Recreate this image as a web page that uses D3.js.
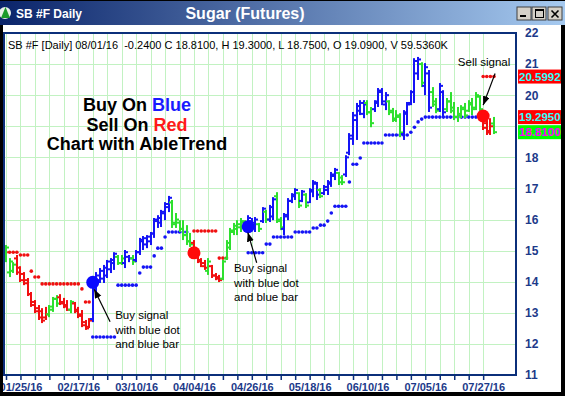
<!DOCTYPE html>
<html><head><meta charset="utf-8">
<script src="https://cdn.jsdelivr.net/npm/d3@7"></script>
<style>body{margin:0;background:#fff}svg{display:block}text{font-family:Arial,"Liberation Sans",sans-serif}</style>
</head><body><svg id="c" width="565" height="396"></svg>
<script>
// ---------------- DATA ----------------
const highs=[15.18,14.76,14.63,14.86,14.50,14.31,14.12,13.67,13.41,13.25,13.15,13.19,13.25,13.51,13.57,13.60,13.48,13.41,13.41,13.35,13.19,13.09,12.77,12.83,
14.05,14.31,14.44,14.54,14.70,14.76,14.95,14.86,14.86,15.02,14.86,14.86,15.02,15.41,15.47,15.50,15.60,16.05,16.14,16.31,16.56,16.76,16.63,16.21,15.98,15.98,15.82,15.57,
15.34,14.86,14.76,14.70,14.76,14.54,14.28,14.22,14.70,15.34,15.73,15.89,15.98,16.05,15.98,16.14,16.05,16.08,15.89,16.40,16.31,16.47,16.72,16.88,16.08,16.21,16.69,16.85,
17.01,16.88,16.95,16.85,17.01,17.27,17.21,17.01,17.11,17.27,17.53,17.66,17.53,17.43,18.07,18.78,19.46,19.75,19.84,19.84,19.84,19.62,19.84,20.23,20.23,20.10,19.84,19.59,
19.52,19.42,19.52,19.78,20.16,21.19,21.23,21.06,21.03,20.81,20.26,19.91,20.39,20.16,19.91,20.10,19.78,19.62,19.68,19.75,19.84,19.91,20.10,20.00,19.46,19.20,19.26,19.30];
const lows=[14.63,14.15,14.28,14.22,13.99,13.89,13.54,13.19,12.99,12.77,12.67,12.77,12.86,13.03,13.19,13.25,13.15,13.06,12.99,12.99,12.83,12.54,12.45,12.51,
12.70,13.67,13.96,13.96,14.12,14.28,14.38,14.54,14.54,14.44,14.63,14.54,14.63,14.86,15.02,15.08,15.18,15.41,15.73,15.76,15.98,16.24,15.73,15.73,15.60,15.34,15.18,15.12,
14.86,14.60,14.47,14.38,14.22,14.12,14.05,13.99,14.05,14.70,15.02,15.50,15.50,15.60,15.66,15.60,15.66,15.60,15.60,15.89,15.89,15.92,15.98,15.89,15.66,15.50,15.98,16.53,
16.63,16.37,16.56,16.37,16.53,16.72,16.63,16.69,16.79,16.79,17.05,17.27,17.11,17.11,17.37,18.07,18.40,18.56,19.36,19.26,19.36,18.97,19.46,19.62,19.68,19.52,19.36,19.14,
19.14,18.65,18.56,19.04,19.68,19.75,20.49,20.26,20.00,19.46,19.62,19.42,19.46,19.30,19.46,19.42,19.20,19.14,19.26,19.26,19.46,19.36,19.52,19.46,18.88,18.72,18.72,18.75];
const opens=[14.70,14.30,14.35,14.75,14.45,14.25,14.05,13.60,13.35,13.15,13.05,12.85,12.95,13.10,13.45,13.50,13.35,13.25,13.10,13.30,13.10,12.95,12.70,12.55,
12.80,13.80,14.05,14.10,14.20,14.40,14.60,14.80,14.60,14.60,14.80,14.75,14.70,14.95,15.30,15.20,15.30,15.55,15.95,15.90,16.20,16.40,16.55,15.90,15.90,15.70,15.50,15.30,
15.25,14.80,14.70,14.60,14.35,14.50,14.20,14.15,14.10,14.75,15.10,15.60,15.70,15.75,15.90,15.75,15.95,15.80,15.85,15.95,16.25,16.00,16.10,16.75,15.95,15.70,16.10,16.60,
16.75,16.85,16.60,16.80,16.55,16.90,17.15,16.95,16.85,16.95,17.15,17.40,17.50,17.35,17.45,18.15,18.60,19.20,19.50,19.40,19.75,19.45,19.55,19.75,20.10,19.70,19.80,19.50,
19.25,19.35,18.75,19.40,19.75,20.10,20.70,21.00,20.30,20.70,20.10,19.80,19.55,20.10,19.55,19.80,19.60,19.30,19.35,19.55,19.50,19.70,19.60,19.95,19.40,19.10,18.85,19.09];
const closes=[15.10,14.65,14.55,14.30,14.05,13.95,13.60,13.25,13.05,12.85,12.75,12.95,13.20,13.45,13.30,13.30,13.20,13.10,13.35,13.05,12.90,12.60,12.50,12.75,
14.00,14.20,14.35,14.45,14.65,14.70,14.90,14.60,14.75,14.95,14.75,14.65,14.95,15.35,15.40,15.45,15.55,16.00,16.05,16.25,16.50,16.70,15.85,16.00,15.70,15.50,15.30,15.20,
14.90,14.65,14.50,14.45,14.65,14.20,14.10,14.05,14.65,15.25,15.65,15.80,15.85,15.95,15.75,16.05,15.90,16.00,15.70,16.35,16.00,16.40,16.65,16.00,15.75,16.15,16.60,16.80,
16.95,16.45,16.90,16.45,16.95,17.20,16.80,16.75,17.05,17.20,17.45,17.60,17.20,17.20,18.00,18.70,19.35,19.65,19.75,19.70,19.45,19.10,19.80,20.15,19.80,20.00,19.45,19.20,
19.30,18.80,19.45,19.70,20.10,21.10,21.15,20.40,20.90,19.60,19.70,19.50,20.30,19.45,19.80,19.50,19.30,19.40,19.60,19.35,19.75,19.55,20.00,19.55,18.95,18.80,19.00,18.81];
const barColors=("ggg"+"rrrrrrrrr"+"ggg"+"rrr"+"g"+"rrrrr"+"bbbbbbb"+"gg"+"bb"+"g"+"bbbbbbbbbb"+"gggggg"+"rrrr"+"g"+"rrr"+"ggggggg"+
"bbb"+"g"+"b"+"g"+"bb"+"gg"+"bbbb"+"g"+"b"+"g"+"bbb"+"g"+"bbbb"+"gg"+"bbbbbb"+"gg"+"bbbb"+"gggg"+"bbbbb"+"g"+"bb"+"gg"+"bb"+"gggggggggg"+"rrr"+"g").split("");
// trailing stop runs: [first bar, last bar, stop price, colour code]
const stopRuns=[[0,3,14.95,"r"],[4,6,14.86,"r"],[7,7,14.34,"r"],[8,9,14.15,"r"],[10,20,13.93,"r"],[21,21,13.77,"r"],[22,23,13.35,"r"],
[24,30,12.22,"b"],[31,36,13.89,"b"],[37,37,14.28,"b"],[38,40,14.47,"b"],[41,41,14.83,"b"],[42,43,15.08,"b"],[44,44,15.44,"b"],[45,50,15.60,"b"],
[52,58,15.63,"r"],[59,61,14.76,"r"],
[67,71,14.93,"b"],[72,73,15.21,"b"],[74,79,15.44,"b"],[80,84,15.60,"b"],[85,86,15.73,"b"],[87,88,15.82,"b"],[89,89,15.95,"b"],[90,90,16.21,"b"],
[91,94,16.43,"b"],[95,95,17.21,"b"],[96,97,17.78,"b"],[98,98,17.98,"b"],[99,104,18.46,"b"],[105,111,18.72,"b"],[112,112,18.81,"b"],[113,113,18.97,"b"],
[114,114,19.14,"b"],[115,115,19.23,"b"],[116,131,19.295,"b"],[132,135,20.5992,"r"]];
// signal dots: [bar, price, colour]
const signals=[[24,13.98,"b"],[52,14.93,"r"],[67,15.77,"b"],[132,19.33,"r"]];
const dateLabels=["01/25/16","02/17/16","03/10/16","04/04/16","04/26/16","05/18/16","06/10/16","07/05/16","07/27/16"];
const dateIdx=[4,20,36,52,68,84,100,116,132];
const priceTicks=[11,12,13,14,15,16,17,18,19,20,21,22];
const lastLabels=[{v:20.5992,t:"20.5992",bg:"#ff0000",fg:"#33ffff"},{v:19.2950,t:"19.2950",bg:"#ff0000",fg:"#33ffff"},{v:18.8100,t:"18.8100",bg:"#00ff00",fg:"#ff00ff"}];
const headerText="SB #F [Daily] 08/01/16  -0.2400 C 18.8100, H 19.3000, L 18.7500, O 19.0900, V 59.5360K";
// annotations: text lines anchored at [bar, price]; arrows from [bar,price] to [bar,price]
const notes=[{at:[30.2,12.80],lines:["Buy signal","with blue dot","and blue bar"]},{at:[63.1,14.31],lines:["Buy signal","with blue dot","and blue bar"]},{at:[125.0,20.94],lines:["Sell signal"]}];
const arrows=[[[28.8,12.71],[24.4,13.76]],[[69.35,14.61],[66.9,15.58]],[[135.3,20.70],[132.0,19.68]]];

// ---------------- DRAW ----------------
const W=565,H=396;
const P={l:4,r:516,t:33,b:375};
const col={b:"#1414f5",r:"#f01010",g:"#2ee02e"};
const sigCol={b:"#0a0aff",r:"#ff0a0a"};
const svg=d3.select("#c");
const x=d3.scaleLinear().domain([0,135]).range([6,494]);
const y=d3.scaleLinear().domain([11,22]).range([P.b,P.t]);
const defs=svg.append("defs");
const tg=defs.append("linearGradient").attr("id","tg");
tg.append("stop").attr("offset","0").attr("stop-color","#0a246a");
tg.append("stop").attr("offset","1").attr("stop-color","#a6caf0");
defs.append("clipPath").attr("id","pc").append("rect").attr("x",P.l+1).attr("y",P.t+1).attr("width",P.r-P.l-2).attr("height",P.b-P.t-1);
defs.append("marker").attr("id","ah").attr("markerUnits","userSpaceOnUse").attr("markerWidth",10).attr("markerHeight",8)
 .attr("refX",9).attr("refY",3.5).attr("orient","auto").append("path").attr("d","M0,0L9,3.5L0,7Z").attr("fill","#000");

// window chrome
svg.append("rect").attr("width",W).attr("height",H).attr("fill","#000");
svg.append("rect").attr("x",0).attr("y",1).attr("width",W).attr("height",24).attr("fill","url(#tg)");
svg.append("rect").attr("x",3).attr("y",25).attr("width",558).attr("height",367).attr("fill","#fff");
// icon
svg.append("circle").attr("cx",5).attr("cy",13).attr("r",6).attr("fill","#e8f0e8");
svg.append("path").attr("d","M1,18L5.5,7L10,18Z").attr("fill","#1a9a2a");
svg.append("text").attr("x",16).attr("y",18).attr("fill","#fff").attr("font-weight","bold").attr("font-size","12px").text("SB #F Daily");
svg.append("text").attr("x",245).attr("y",19).attr("text-anchor","middle").attr("fill","#fff").attr("font-weight","bold").attr("font-size","16px").text("Sugar (Futures)");
// buttons
[[517,"min"],[532,"max"],[548,"x"]].forEach(([bx,k])=>{
  svg.append("rect").attr("x",bx).attr("y",7).attr("width",14).attr("height",13).attr("fill","#d4d0c8").attr("stroke","#404040").attr("stroke-width",1);
  if(k==="min") svg.append("rect").attr("x",bx+3).attr("y",15).attr("width",6).attr("height",2).attr("fill","#000");
  if(k==="max"){ svg.append("rect").attr("x",bx+3.5).attr("y",9.5).attr("width",8).attr("height",8).attr("fill","none").attr("stroke","#000").attr("stroke-width",1);
    svg.append("rect").attr("x",bx+3).attr("y",9).attr("width",9).attr("height",2).attr("fill","#000");}
  if(k==="x") svg.append("path").attr("d",`M${bx+3.5},10.5L${bx+10.5},17.5M${bx+10.5},10.5L${bx+3.5},17.5`).attr("stroke","#000").attr("stroke-width",1.6);
});

// grid
const g=svg.append("g");
const tickIdx=d3.range(0,133,4);
g.selectAll(".vg").data(tickIdx).join("line").attr("x1",d=>Math.round(x(d))+0.5).attr("x2",d=>Math.round(x(d))+0.5)
 .attr("y1",P.t).attr("y2",P.b).attr("stroke","#c2f2c2").attr("stroke-width",1);
g.selectAll(".hg").data(priceTicks.filter(v=>v>11&&v<22)).join("line").attr("y1",d=>Math.round(y(d))+0.5).attr("y2",d=>Math.round(y(d))+0.5)
 .attr("x1",P.l).attr("x2",P.r).attr("stroke","#c2f2c2").attr("stroke-width",1);

// header
svg.append("text").attr("x",8).attr("y",49).attr("font-size","11px").attr("fill","#000").attr("xml:space","preserve").text(headerText);

// big caption
const cap=svg.append("g").attr("font-weight","bold").attr("font-size","18px").attr("text-anchor","middle");
const c1=cap.append("text").attr("x",137).attr("y",111); c1.append("tspan").text("Buy On "); c1.append("tspan").attr("fill","#1a1aff").text("Blue");
const c2=cap.append("text").attr("x",137).attr("y",130.5); c2.append("tspan").text("Sell On "); c2.append("tspan").attr("fill","#ff1a1a").text("Red");
cap.append("text").attr("x",137).attr("y",149.5).text("Chart with AbleTrend");

// plot content
const pg=svg.append("g").attr("clip-path","url(#pc)");
const idx=d3.range(highs.length);
// stops
const stops=[];
stopRuns.forEach(([a,b,v,c])=>{for(let i=a;i<=b;i++)stops.push({i,v,c});});
pg.selectAll(".st").data(stops).join("circle").attr("cx",d=>x(d.i)).attr("cy",d=>y(d.v)).attr("r",1.8).attr("fill",d=>col[d.c]);
// bars
const bars=pg.selectAll(".bar").data(idx).join("g").attr("fill",i=>col[barColors[i]]);
bars.append("rect").attr("x",i=>Math.round(x(i))-1).attr("width",2).attr("y",i=>y(highs[i])).attr("height",i=>Math.max(2,y(lows[i])-y(highs[i])));
bars.append("rect").attr("x",i=>Math.round(x(i))-3).attr("width",2).attr("y",i=>y(opens[i])-1).attr("height",2);
bars.append("rect").attr("x",i=>Math.round(x(i))+1).attr("width",2).attr("y",i=>y(closes[i])-1).attr("height",2);
// signals
pg.selectAll(".sig").data(signals).join("circle").attr("cx",d=>x(d[0])).attr("cy",d=>y(d[1])).attr("r",6.5).attr("fill",d=>sigCol[d[2]]);
// arrows
pg.selectAll(".ar").data(arrows).join("line").attr("x1",d=>x(d[0][0])).attr("y1",d=>y(d[0][1])).attr("x2",d=>x(d[1][0])).attr("y2",d=>y(d[1][1]))
 .attr("stroke","#000").attr("stroke-width",1.2).attr("marker-end","url(#ah)");
// notes
notes.forEach(n=>{
  const t=pg.append("text").attr("x",x(n.at[0])).attr("y",y(n.at[1])).attr("font-size","11.5px").attr("fill","#000");
  n.lines.forEach((l,k)=>t.append("tspan").attr("x",x(n.at[0])).attr("dy",k?14.5:0).text(l));
});

// frame
svg.append("rect").attr("x",P.l).attr("y",P.t).attr("width",P.r-P.l).attr("height",P.b-P.t).attr("fill","none").attr("stroke","#0b2f7a").attr("stroke-width",2);

// x axis
const labelMap={}; dateIdx.forEach((d,k)=>labelMap[d]=dateLabels[k]);
const xa=svg.append("g").attr("transform",`translate(0,${P.b})`)
 .call(d3.axisBottom(x).tickValues(tickIdx).tickSize(5).tickPadding(3).tickFormat(i=>labelMap[i]||""));
xa.select(".domain").remove();
xa.selectAll(".tick line").attr("stroke","#0b2f7a").attr("stroke-width",1.5);
xa.selectAll(".tick text").attr("fill","#1c3a8a").attr("font-weight","bold").attr("font-size","11px").attr("font-family","Arial, 'Liberation Sans', sans-serif");

// last-value boxes (stacked bottom-up to avoid overlap)
const bh=14; let prevTop=Infinity;
const boxes=lastLabels.slice().sort((a,b)=>a.v-b.v).map(d=>{let top=Math.min(y(d.v)-bh/2,prevTop-bh);prevTop=top;return {...d,top};});
// y axis: labels hidden behind a value box are not drawn (as in the reference)
const hidden=v=>boxes.some(b=>y(v)+4>b.top&&y(v)-4<b.top+bh);
const ya=svg.append("g").attr("transform",`translate(${P.r},0)`)
 .call(d3.axisRight(y).tickValues(priceTicks).tickSize(0).tickPadding(9).tickFormat(v=>hidden(v)?"":d3.format("d")(v)));
ya.select(".domain").remove();
ya.selectAll(".tick text").attr("fill","#1c3a8a").attr("font-weight","bold").attr("font-size","12px").attr("font-family","Arial, 'Liberation Sans', sans-serif");

const bx=svg.selectAll(".lb").data(boxes).join("g");
bx.append("rect").attr("x",518).attr("y",d=>d.top).attr("width",44).attr("height",bh).attr("fill",d=>d.bg);
bx.append("text").attr("x",519).attr("y",d=>d.top+bh/2).attr("dy","0.35em").attr("font-size","11.5px").attr("font-weight","bold").attr("fill",d=>d.fg).text(d=>d.t);
// window borders on top
svg.append("rect").attr("x",561).attr("y",25).attr("width",4).attr("height",371).attr("fill","#000");
svg.append("rect").attr("x",0).attr("y",392).attr("width",565).attr("height",4).attr("fill","#000");
svg.append("rect").attr("x",0).attr("y",25).attr("width",3).attr("height",371).attr("fill","#000");
</script></body></html>
